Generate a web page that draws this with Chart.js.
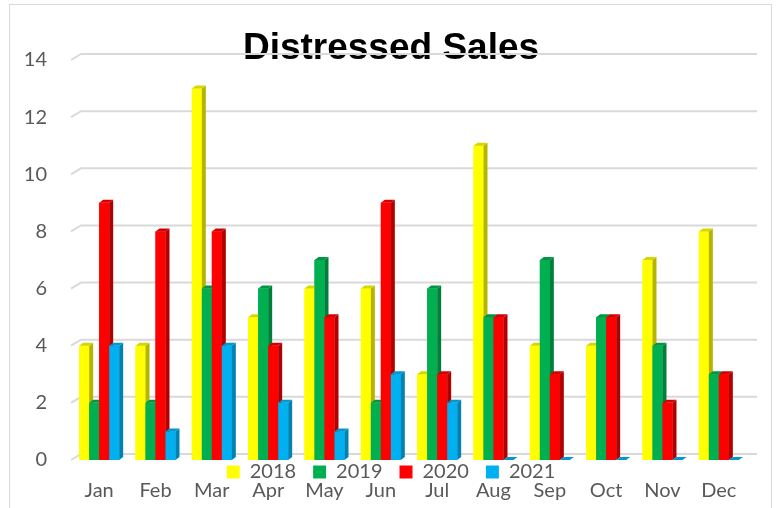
<!DOCTYPE html>
<html>
<head>
<meta charset="utf-8">
<title>Distressed Sales</title>
<script src="https://cdn.jsdelivr.net/npm/chart.js@4"></script>
<style>
    body { margin: 0; background: #ffffff; }
    #wrap { width: 776px; height: 508px; }
</style>
</head>
<body>
<div id="wrap"><canvas id="salesChart" width="776" height="508"></canvas></div>
<script>
// DATA
let months = ['Jan', 'Feb', 'Mar', 'Apr', 'May', 'Jun', 'Jul', 'Aug', 'Sep', 'Oct', 'Nov', 'Dec'];
let years = ['2018', '2019', '2020', '2021'];
let sales2018 = [4, 4, 13, 5, 6, 6, 3, 11, 4, 4, 7, 8];
let sales2019 = [2, 2, 6, 6, 7, 2, 6, 5, 7, 5, 4, 3];
let sales2020 = [9, 8, 8, 4, 5, 9, 3, 5, 3, 5, 2, 3];
let sales2021 = [4, 1, 4, 2, 1, 3, 2, 0, 0, 0, 0, 0];

// COLOURS (front, side, top)
let frontColors = ['#FFFF00', '#00B050', '#FF0000', '#00B0F0'];
let sideColors = ['#B5B500', '#007F3A', '#B00000', '#0082B2'];
let topColors = ['#D6D600', '#009644', '#D40000', '#0098CF'];

let textGrey = '#595959';
let gridGrey = '#D9D9D9';

// BORDER AROUND THE CHART
let chartBorder = {
    id: 'chartBorder',
    beforeDraw(chart) {
        let ctx = chart.ctx;
        ctx.save();
        ctx.strokeStyle = gridGrey;
        ctx.lineWidth = 1;
        ctx.strokeRect(9.5, 4.5, 762, 530);
        ctx.restore();
    }
};

// 3D BACK WALL GRIDLINES
let backGrid = {
    id: 'backGrid',
    beforeDatasetsDraw(chart) {
        let ctx = chart.ctx;
        let yScale = chart.scales.y;
        let area = chart.chartArea;
        ctx.save();
        ctx.strokeStyle = gridGrey;
        ctx.lineWidth = 2;
        yScale.ticks.forEach((tick) => {
            let y = yScale.getPixelForValue(tick.value);
            ctx.beginPath();
            ctx.moveTo(area.left, y);
            ctx.lineTo(area.left + 10, y - 6);
            ctx.lineTo(area.right + 10, y - 6);
            ctx.stroke();
        });
        ctx.restore();
    }
};

// 3D BAR FACES, DRAWN IN SERIES ORDER SO LATER SERIES SIT IN FRONT
let bars3d = {
    id: 'bars3d',
    afterDatasetsDraw(chart) {
        let ctx = chart.ctx;
        let dx = 4;
        let dy = 3;
        ctx.save();
        for (let i = 0; i < months.length; i++) {
            chart.data.datasets.forEach((ds, d) => {
                let bar = chart.getDatasetMeta(d).data[i];
                let p = bar.getProps(['x', 'y', 'base', 'width'], true);
                let l = p.x - p.width / 2;
                let r = p.x + p.width / 2;

                ctx.fillStyle = frontColors[d];
                ctx.fillRect(l, p.y, p.width, p.base - p.y);

                ctx.fillStyle = sideColors[d];
                ctx.beginPath();
                ctx.moveTo(r, p.y);
                ctx.lineTo(r + dx, p.y - dy);
                ctx.lineTo(r + dx, p.base - dy);
                ctx.lineTo(r, p.base);
                ctx.closePath();
                ctx.fill();

                ctx.fillStyle = topColors[d];
                ctx.beginPath();
                ctx.moveTo(l, p.y);
                ctx.lineTo(l + dx, p.y - dy);
                ctx.lineTo(r + dx, p.y - dy);
                ctx.lineTo(r, p.y);
                ctx.closePath();
                ctx.fill();
            });
        }
        ctx.restore();
    }
};

// LEGEND SITS OVER THE MONTH LABELS, Y LABELS MAY USE THE LEFT MARGIN
let layoutTweak = {
    id: 'layoutTweak',
    afterLayout(chart) {
        let legend = chart.legend;
        let h = legend.bottom - legend.top;
        legend.top = 445;
        legend.bottom = 445 + h;
        chart.scales.y.left = 0;
    }
};

let ctx = document.querySelector('#salesChart').getContext('2d');

let salesChart = new Chart(ctx, {
    type: 'bar',

    data: {
        labels: months,
        datasets: [
            { label: years[0], data: sales2018, backgroundColor: frontColors[0] },
            { label: years[1], data: sales2019, backgroundColor: frontColors[1] },
            { label: years[2], data: sales2020, backgroundColor: frontColors[2] },
            { label: years[3], data: sales2021, backgroundColor: frontColors[3] }
        ]
    },

    options: {
        responsive: false,
        animation: false,
        categoryPercentage: 0.71,
        barPercentage: 1.0,

        layout: {
            padding: { left: 35, right: 29, top: 0, bottom: -61 }
        },

        scales: {
            x: {
                grid: { display: false, drawTicks: false },
                border: { display: false },
                ticks: {
                    color: textGrey,
                    padding: 19,
                    font: { family: 'Lato', size: 20 }
                }
            },
            y: {
                min: 0,
                max: 14,
                grid: { display: false, drawTicks: false },
                border: { display: false },
                afterFit(scale) {
                    scale.width = 36;
                },
                ticks: {
                    stepSize: 2,
                    color: textGrey,
                    padding: 24,
                    font: { family: 'Lato', size: 20 }
                }
            }
        },

        plugins: {
            tooltip: { enabled: false },
            legend: {
                position: 'bottom',
                labels: {
                    boxWidth: 13,
                    boxHeight: 13,
                    padding: 17,
                    color: textGrey,
                    font: { family: 'Lato', size: 20 }
                }
            },
            title: {
                display: true,
                text: 'Distressed Sales',
                color: '#000000',
                padding: { top: 30, bottom: -7 },
                font: { family: 'Liberation Sans', size: 37, weight: 'bold', lineHeight: 1 }
            }
        }
    },

    plugins: [chartBorder, backGrid, bars3d, layoutTweak]
});
</script>
</body>
</html>
